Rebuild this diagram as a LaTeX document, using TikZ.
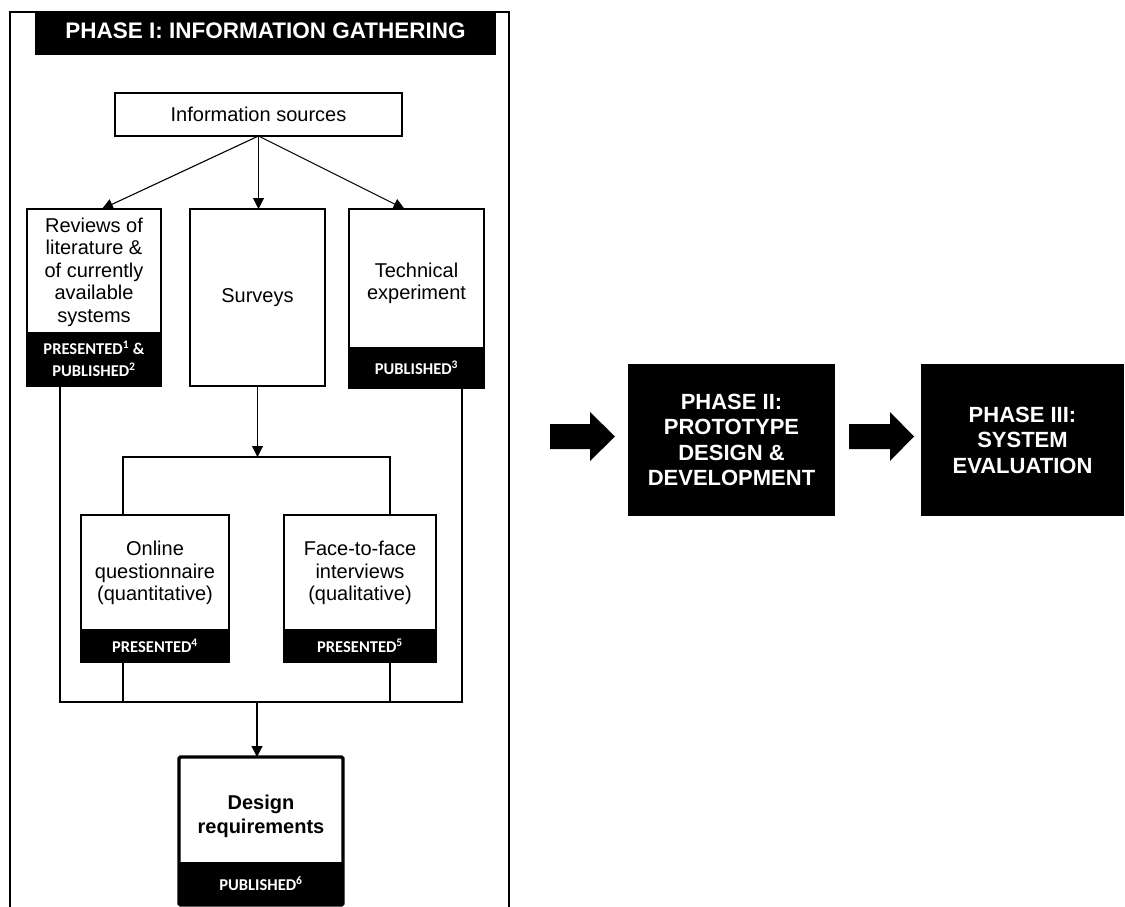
\documentclass[tikz,border=0pt]{standalone}
\usepackage{fontspec}
\setmainfont{Liberation Sans}
\newfontfamily\bandfont{Carlito}
\usetikzlibrary{arrows.meta}
\begin{document}
\begin{tikzpicture}[x=1pt,y=-1pt,
  box/.style={draw=black, line width=1.1pt, inner sep=0pt, outer sep=0pt},
  band/.style={fill=black, inner sep=0pt, outer sep=0pt, text=white,
    font=\bandfont\bfseries\fontsize{16.5}{22}\selectfont, align=center},
  txt/.style={align=center, inner sep=0pt, font=\fontsize{20}{22.5}\selectfont},
  phase/.style={fill=black, text=white, align=center, inner sep=0pt,
    font=\bfseries\fontsize{22}{25.5}\selectfont},
  link/.style={line width=1.1pt},
  arr/.style={link, -{Triangle[length=11pt,width=11pt]}},
  bigarrow/.style={fill=black}
]
\useasboundingbox (0,0) rectangle (1125,907);

% Phase I frame and title bar
\draw[link] (10,907) -- (10,12) -- (509,12) -- (509,907);
\node[phase, minimum width=461, minimum height=43] (p1) at (265.5,33.5) {};
\node[text=white, inner sep=0pt, font=\bfseries\fontsize{22.5}{26}\selectfont] (p1t) at (265.5,31) {PHASE I: INFORMATION GATHERING};

% Information sources
\node[box, txt, minimum width=287, minimum height=43] (info) at (258.5,114.5) {Information sources};

% Reviews
\node[box, minimum width=134, minimum height=177] (rev) at (94,297.5) {};
\node[band, minimum width=134, minimum height=54] (revb) at (94,359) {PRESENTED\textsuperscript{1} \&\\PUBLISHED\textsuperscript{2}};
\node[box, minimum width=134, minimum height=177] (revo) at (94,297.5) {};
\node[txt] (revt) at (94,272) {Reviews of\\literature \&\\of currently\\available\\systems};

% Surveys
\node[box, txt, minimum width=135, minimum height=177] (surv) at (257.5,297.5) {Surveys};

% Technical experiment
\node[band, minimum width=135, minimum height=41] (techb) at (416.5,367.5) {PUBLISHED\textsuperscript{3}};
\node[box, minimum width=135, minimum height=179] (tech) at (416.5,298.5) {};
\node[txt] (techt) at (416.5,283.5) {Technical\\experiment};

% Online questionnaire
\node[band, minimum width=148, minimum height=33] (onlineb) at (155,645.5) {PRESENTED\textsuperscript{4}};
\node[box, minimum width=148, minimum height=147] (online) at (155,588.5) {};
\node[txt] (onlinet) at (155,573) {Online\\questionnaire\\(quantitative)};

% Face-to-face interviews
\node[band, minimum width=152, minimum height=33] (faceb) at (360,645.5) {PRESENTED\textsuperscript{5}};
\node[box, minimum width=152, minimum height=147] (face) at (360,588.5) {};
\node[txt] (facet) at (360,573) {Face-to-face\\interviews\\(qualitative)};

% Design requirements
\node[band, minimum width=164, minimum height=43] (designb) at (261,883.5) {PUBLISHED\textsuperscript{6}};
\node[box, line width=3.2pt, rounded corners=1.5pt, minimum width=164, minimum height=148] (design) at (261,831) {};
\node[txt, font=\bfseries\fontsize{20}{24}\selectfont] (designt) at (261,816) {Design\\requirements};

% Connectors
\draw[arr] (info.south) -- ([xshift=8]rev.north);
\draw[arr] (info.south) -- (info.south |- surv.north);
\draw[arr] (info.south) -- ([xshift=-12]tech.north);

\coordinate (split) at (257.5,457);
\draw[arr] (surv.south) -- (split);
\draw[link] ([xshift=-32]online.north) |- (split) -| ([xshift=30]face.north);

\coordinate (merge) at (257,702);
\draw[link] ([xshift=-34]rev.south) |- ([xshift=45.5]tech.south |- merge) -- ([xshift=45.5]tech.south);
\draw[link] ([xshift=-32]online.south) -- ([xshift=-32]online.south |- merge);
\draw[link] ([xshift=30]face.south) -- ([xshift=30]face.south |- merge);
\draw[arr] (merge) -- (merge |- design.north);

% Phases II and III
\node[phase, minimum width=207, minimum height=152] (p2) at (731.5,440) {PHASE II:\\PROTOTYPE\\DESIGN \&\\DEVELOPMENT};
\node[phase, minimum width=203, minimum height=152] (p3) at (1022.5,440) {PHASE III:\\SYSTEM\\EVALUATION};

% Block arrows between phases
\fill[bigarrow] (550,424) -- (590,424) -- (590,412) -- (615,436.5) -- (590,461) -- (590,449) -- (550,449) -- cycle;
\fill[bigarrow] (849,424) -- (890,424) -- (890,412) -- (914,436.5) -- (890,461) -- (890,449) -- (849,449) -- cycle;
\end{tikzpicture}
\end{document}
